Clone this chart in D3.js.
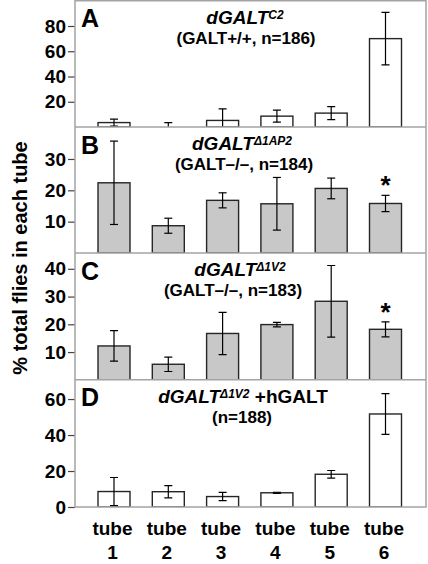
<!DOCTYPE html>
<html><head><meta charset="utf-8">
<script src="https://cdn.jsdelivr.net/npm/d3@7"></script>
<style>
html,body{margin:0;padding:0;background:#fff;}
svg{display:block;font-family:"Liberation Sans",Arial,Helvetica,sans-serif;font-weight:bold;}
</style></head><body>
<svg id="chart" width="428" height="564"></svg>
<script>
const tubes = ["1","2","3","4","5","6"];

const valuesA = [3.5, 0, 5.2, 8.6, 11, 70];
const errorsA = [2.7, 3.4, 9.2, 4.8, 5.1, 20.8];
const valuesB = [22.4, 8.7, 16.8, 15.7, 20.6, 15.8];
const errorsB = [13.3, 2.4, 2.4, 8.4, 3.3, 2.6];
const valuesC = [12.2, 5.6, 16.7, 19.9, 28.3, 18.2];
const errorsC = [5.5, 2.6, 7.6, 0.8, 12.9, 2.7];
const valuesD = [8.6, 8.5, 5.8, 7.9, 18.2, 51.7];
const errorsD = [7.8, 3.4, 2.3, 0.3, 2.1, 11.3];

const ticksA = [20, 40, 60, 80];
const ticksB = [10, 20, 30];
const ticksC = [10, 20, 30, 40];
const ticksD = [0, 20, 40, 60];

const letters = ["A", "B", "C", "D"];
const titleMain = ["dGALT", "dGALT", "dGALT", "dGALT"];
const titleSup = ["C2", "\u03941AP2", "\u03941V2", "\u03941V2"];
const titleTail = ["", "", "", " +hGALT"];
const subtitles = ["(GALT+/+, n=186)", "(GALT\u2013/\u2013, n=184)", "(GALT\u2013/\u2013, n=183)", "(n=188)"];
const starFlags = [[], [5], [5], []];
const fills = ["#ffffff", "#c8c8c8", "#c8c8c8", "#ffffff"];
const yMax = [100, 40.2, 45.7, 70.7];

const xLabelTop = "tube";
const yLabel = "% total flies in each tube";

// layout
const frameL = 75, frameR = 426;
const panelTops = [0.75, 127, 253, 379.8];
const panelBots = [127, 253, 379.8, 507];
const titleX = [245, 242, 240, 243];
const subX = [246, 244, 233, 242];

const svg = d3.select("#chart");
const x = d3.scalePoint().domain(tubes).range([114, 385.5]);
const barW = 32;

const panels = [
  {v: valuesA, e: errorsA, t: ticksA},
  {v: valuesB, e: errorsB, t: ticksB},
  {v: valuesC, e: errorsC, t: ticksC},
  {v: valuesD, e: errorsD, t: ticksD}
];

panels.forEach((p, i) => {
  const top = panelTops[i], bot = panelBots[i];
  const y = d3.scaleLinear().domain([0, yMax[i]]).range([bot, top]);
  const g = svg.append("g");
  const clipId = "clip" + i;
  svg.append("clipPath").attr("id", clipId).append("rect")
    .attr("x", frameL).attr("y", top).attr("width", frameR - frameL).attr("height", bot - top);

  // axis ticks
  const axis = d3.axisLeft(y).tickValues(p.t).tickSize(7).tickPadding(2).tickFormat(d3.format("d"));
  const ag = g.append("g").attr("transform", `translate(${frameL},0)`).call(axis);
  ag.select(".domain").remove();
  ag.selectAll(".tick line").attr("stroke", "#444").attr("stroke-width", 1.2);
  ag.selectAll(".tick text").attr("fill", "#000").attr("font-size", 19)
    .attr("font-weight", "bold").attr("font-family", '"Liberation Sans",Arial,sans-serif');

  const data = tubes.map((t, j) => ({t, v: p.v[j], e: p.e[j], j}));
  const bars = g.append("g").attr("clip-path", `url(#${clipId})`);
  bars.selectAll("rect").data(data).enter().append("rect")
    .attr("x", d => x(d.t) - barW / 2)
    .attr("y", d => y(d.v))
    .attr("width", barW)
    .attr("height", d => y(0) - y(d.v))
    .attr("fill", fills[i]).attr("stroke", "#262626").attr("stroke-width", 1.4);

  const eb = bars.append("g").attr("stroke", "#000").attr("stroke-width", 1.2);
  data.forEach(d => {
    const cx = x(d.t);
    const y1 = y(d.v + d.e), y0 = y(Math.max(d.v - d.e, 0));
    eb.append("line").attr("x1", cx).attr("x2", cx).attr("y1", y1).attr("y2", y(d.v - d.e));
    eb.append("line").attr("x1", cx - 4).attr("x2", cx + 4).attr("y1", y1).attr("y2", y1);
    if (d.v - d.e >= 0) eb.append("line").attr("x1", cx - 4).attr("x2", cx + 4).attr("y1", y0).attr("y2", y0);
  });

  // stars
  starFlags[i].forEach(j => {
    g.append("text").attr("x", x(tubes[j])).attr("y", y(p.v[j] + p.e[j]) - 1)
      .attr("text-anchor", "middle").attr("font-size", 26).text("*");
  });

  // panel letter
  g.append("text").attr("x", 81).attr("y", top + 26.5).attr("font-size", 25).text(letters[i]);

  // title
  const tt = g.append("text").attr("x", titleX[i]).attr("y", top + 23)
    .attr("text-anchor", "middle").attr("font-size", 19);
  tt.append("tspan").attr("font-style", "italic").text(titleMain[i]);
  tt.append("tspan").attr("font-style", "italic").attr("font-size", 12).attr("dy", -5).text(titleSup[i]);
  if (titleTail[i]) tt.append("tspan").attr("dy", 5).text(titleTail[i]);

  g.append("text").attr("x", subX[i]).attr("y", top + 43)
    .attr("text-anchor", "middle").attr("font-size", 17).text(subtitles[i]);
});

// frame
const frame = svg.append("g").attr("fill", "none").attr("stroke", "#a3a3a3").attr("stroke-width", 1.5);
frame.append("rect").attr("x", frameL).attr("y", panelTops[0]).attr("width", frameR - frameL)
  .attr("height", panelBots[3] - panelTops[0]);
panelBots.slice(0, 3).forEach(b => {
  frame.append("line").attr("x1", frameL).attr("x2", frameR).attr("y1", b).attr("y2", b);
});

// x labels
const xl = svg.append("g").attr("font-size", 19).attr("text-anchor", "middle");
tubes.forEach(t => {
  xl.append("text").attr("x", x(t) - 1.5).attr("y", 535).text(xLabelTop);
  xl.append("text").attr("x", x(t) - 1.5).attr("y", 559).text(t);
});

// y label
svg.append("text").attr("transform", "translate(27,258) rotate(-90)")
  .attr("text-anchor", "middle").attr("font-size", 20).text(yLabel);
</script>
</body></html>
